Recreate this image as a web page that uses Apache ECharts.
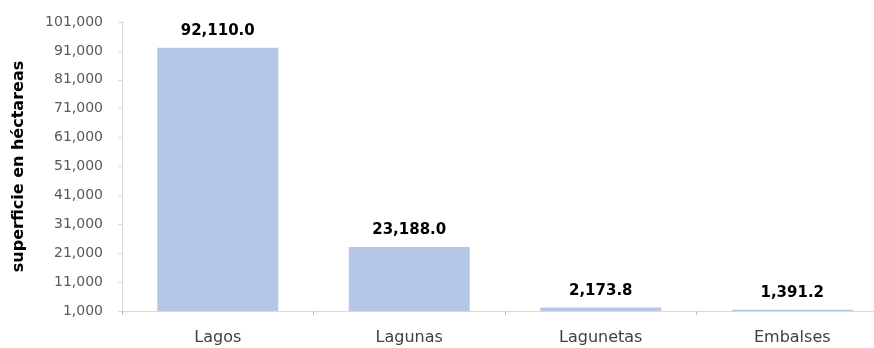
<!DOCTYPE html>
<html>
<head>
<meta charset="utf-8">
<script src="https://cdn.jsdelivr.net/npm/echarts@6/dist/echarts.min.js"></script>
<style>
	html, body { margin: 0; padding: 0; background: #fff; }
	#chart { width: 874px; height: 348px; }
</style>
</head>
<body>
<div id="chart"></div>
<script>
// categorías y superficie (ha)
var categories = ['Lagos', 'Lagunas', 'Lagunetas', 'Embalses'];
var superficie = [92110.0, 23188.0, 2173.8, 1391.2];
// el eje arranca en 1,000 y sube de 10,000 en 10,000
var axisBase = 1000;
var axisStep = 10000;
var axisTop = 101000;

function fmt(v, dec) {
	return v.toLocaleString('en-US', { minimumFractionDigits: dec, maximumFractionDigits: dec });
}

// las barras salen de la base del eje, asi que se dibujan desplazadas
var barData = [];
for (var i = 0; i < superficie.length; i++) {
	barData.push({ value: superficie[i] - axisBase, real: superficie[i] });
}

var chart = echarts.init(document.getElementById('chart'));
chart.setOption({
	animation: false,
	textStyle: { fontFamily: 'DejaVu Sans, sans-serif' },
	// el grafico original esta recortado por la derecha
	grid: { left: 122, top: 22, width: 766, height: 289, outerBoundsMode: 'none', containLabel: false },
	xAxis: {
		type: 'category',
		data: categories,
		axisLine: { lineStyle: { color: '#d9d9d9', width: 1 } },
		axisTick: { show: true, length: 4, lineStyle: { color: '#bfbfbf' } },
		axisLabel: { color: '#404040', fontSize: 16, margin: 19 }
	},
	yAxis: {
		type: 'value',
		min: 0,
		max: axisTop - axisBase,
		interval: axisStep,
		name: 'superficie en héctareas',
		nameLocation: 'middle',
		nameGap: 95,
		nameTextStyle: { color: '#000', fontSize: 16, fontWeight: 'bold' },
		axisLine: { show: true, lineStyle: { color: '#d9d9d9' } },
		axisTick: { show: true, length: 4, lineStyle: { color: '#d9d9d9' } },
		splitLine: { show: false },
		axisLabel: {
			color: '#595959',
			fontSize: 14,
			margin: 19,
			formatter: function (v) { return fmt(v + axisBase, 0); }
		}
	},
	series: [{
		type: 'bar',
		data: barData,
		barWidth: 121,
		itemStyle: { color: '#b4c7e7' },
		label: {
			show: true,
			position: 'top',
			distance: 9,
			color: '#000',
			fontSize: 15,
			fontWeight: 'bold',
			formatter: function (p) { return fmt(p.data.real, 1); }
		}
	}]
});
</script>
</body>
</html>
